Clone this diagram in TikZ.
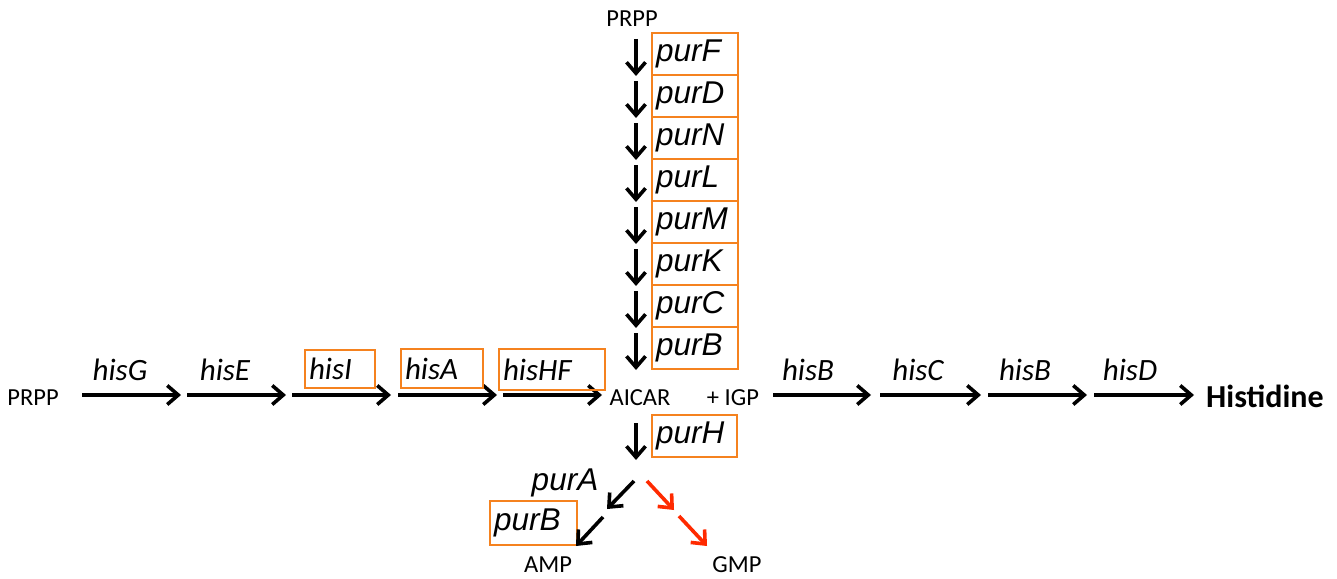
\documentclass[tikz,border=0pt]{standalone}
\usepackage{fontspec}
\setmainfont{Carlito}
\newfontfamily\genefont{Liberation Sans}
\definecolor{boxorange}{HTML}{F5821F}
\definecolor{gmpred}{HTML}{FF2A00}
\usetikzlibrary{arrows.meta}

\begin{document}
\begin{tikzpicture}[x=1pt, y=-1pt,
  metab/.style={font=\fontsize{24.5}{26}\selectfont, inner sep=0pt},
  hislab/.style={font=\fontsize{31}{33}\selectfont\itshape, inner sep=0pt},
  purlab/.style={font=\genefont\fontsize{31.5}{33}\selectfont\itshape, inner sep=0pt},
  genebox/.style={draw=boxorange, line width=1.8pt, minimum width=#1, minimum height=40pt,
    text width=#1-8pt, inner xsep=4pt, align=left},
  rxn/.style={-{Straight Barb[length=11pt,width=19pt,line width=3.6pt]}, line width=3.6pt}
]
  \useasboundingbox (0,0) rectangle (1337,578);

  % Purine column
  \node[metab] (prpptop) at (632,19) {PRPP};
  \foreach \g [count=\i from 0] in {F,D,N,L,M,K,C,B} {
    \node[purlab, genebox=86pt, minimum height=42pt] (pur\g) at (695,{54+42*\i}) {pur\g};
    \coordinate (va\i) at (636,{39+42*\i});
    \coordinate (vb\i) at (636,{76+42*\i});
    \draw[rxn] (va\i) -- (vb\i);
  }

  % Histidine row
  \node[metab] (prppleft) at (33,398) {PRPP};
  \node[metab] (aicar) at (640,398) {AICAR};
  \node[metab] (igp) at (733,398) {+ IGP};
  \node[font=\fontsize{32}{34}\selectfont\bfseries, anchor=west, inner sep=0pt] (histidine) at (1206,396) {Histidine};

  \foreach \xa/\xb [count=\i] in {82/181,187/286,292/391,398/497,503/602,773/871,880/981,988/1087,1094/1194} {
    \coordinate (ha\i) at (\xa,395);
    \coordinate (hb\i) at (\xb,395);
    \draw[rxn] (ha\i) -- (hb\i);
  }

  \node[hislab] (hisG) at (120,370) {hisG};
  \node[hislab] (hisE) at (225,370) {hisE};
  \node[hislab, genebox=70pt, minimum height=38pt] (hisI) at (340,369) {hisI};
  \node[hislab, genebox=82pt, minimum height=39pt] (hisA) at (442,368.5) {hisA};
  \node[hislab, genebox=106pt, minimum height=41pt] (hisHF) at (552,369.5) {hisHF};
  \node[hislab] (hisB) at (808,370) {hisB};
  \node[hislab] (hisC) at (918,370) {hisC};
  \node[hislab] (hisBb) at (1025,370) {hisB};
  \node[hislab] (hisD) at (1130,370) {hisD};

  % AICAR onwards
  \node[purlab, genebox=85pt, minimum height=42pt] (purH) at (694.5,436) {purH};
  \coordinate (ha) at (636,423);
  \coordinate (hb) at (636,460);
  \draw[rxn] (ha) -- (hb);

  \node[purlab] (purA) at (565,483) {purA};
  \node[purlab, genebox=87pt, minimum height=44pt] (purBb) at (533.5,523) {purB};
  \node[metab] (amp) at (548,565) {AMP};
  \node[metab] (gmp) at (737,565) {GMP};

  \coordinate (a1) at (634,481);
  \coordinate (a2) at (607,509);
  \coordinate (a3) at (603,517);
  \coordinate (a4) at (576,546);
  \draw[rxn] (a1) -- (a2);
  \draw[rxn] (a3) -- (a4);

  \coordinate (g1) at (647,481);
  \coordinate (g2) at (674,510);
  \coordinate (g3) at (679,516);
  \coordinate (g4) at (707,546);
  \draw[rxn, gmpred] (g1) -- (g2);
  \draw[rxn, gmpred] (g3) -- (g4);
\end{tikzpicture}
\end{document}
